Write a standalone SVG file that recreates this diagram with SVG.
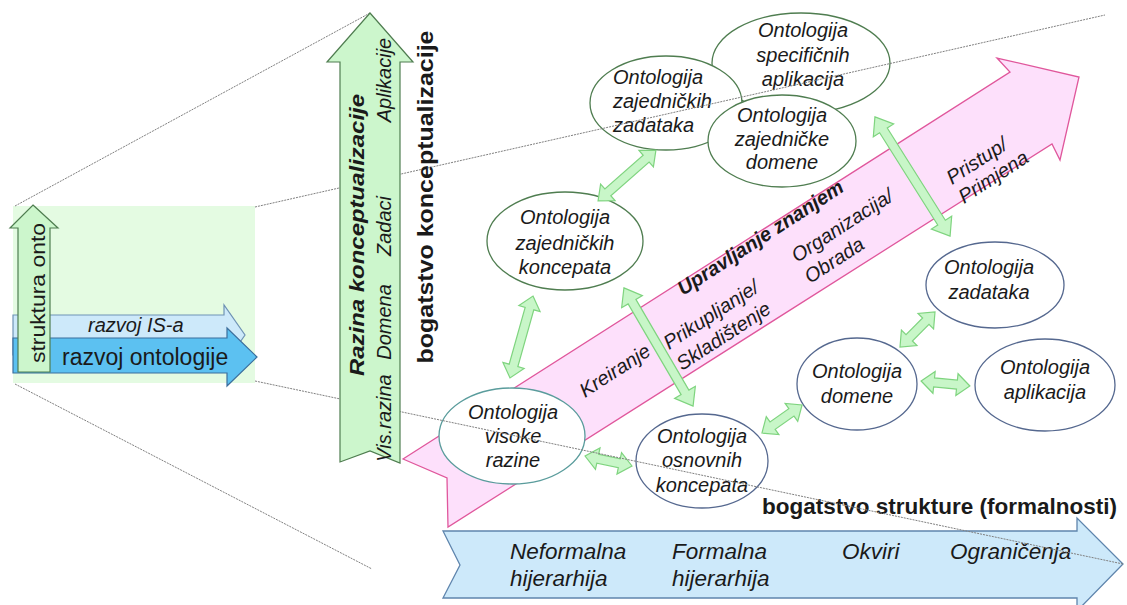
<svg xmlns="http://www.w3.org/2000/svg" width="1127" height="605" viewBox="0 0 1127 605">
<style>
.t{font-family:"Liberation Sans",Arial,sans-serif;fill:#1a1a1a}
.it{font-style:italic;font-size:20px}
.ell{fill:#ffffff;stroke-width:1.3}
.g{stroke:#4f7d50}
.tl{stroke:#5a9c9c}
.bl{stroke:#55688f}
.dbl{fill:#c8f6c8;stroke:#7fd47f;stroke-width:1.2}
.dot{stroke:#808080;stroke-width:1;stroke-dasharray:2 1;fill:none}
.big{font-size:22.5px}
</style>
<rect width="1127" height="605" fill="#ffffff"/>

<g id="left-panel">
  <rect x="13" y="206" width="242" height="177" fill="#e4fbe2"/>
  <polygon points="13,315 224,315 224,305 245,335 224,365 224,355 13,355" fill="#cde9fa" stroke="#6f93b5" stroke-width="1.2"/>
  <text class="t it" x="88" y="332" font-size="18.5">razvoj IS-a</text>
  <polygon points="13,338 227,338 227,328 257,357 227,386 227,373 13,373" fill="#5cc1f1" stroke="#3b6e9c" stroke-width="1.2"/>
  <text class="t" x="62" y="365" font-size="23">razvoj ontologije</text>
  <polygon points="33,205 58,228 50,228 50,372 18,372 18,228 10,228" fill="#ccf6cc" stroke="#4f7d50" stroke-width="1.2"/>
  <text class="t" transform="translate(45,293) rotate(-90)" text-anchor="middle" font-size="20" textLength="140" lengthAdjust="spacingAndGlyphs">struktura  onto</text>
</g>

<g id="formalnost-arrow">
  <polygon points="443,531 1077,531 1077,518 1123,564 1077,611 1077,598 443,598 460,565" fill="#cde9fa" stroke="#5f85ad" stroke-width="1.3"/>
  <text class="t it big" x="510" y="559">Neformalna</text>
  <text class="t it big" x="510" y="586">hijerarhija</text>
  <text class="t it big" x="672" y="559">Formalna</text>
  <text class="t it big" x="672" y="586">hijerarhija</text>
  <text class="t it big" x="842" y="559">Okviri</text>
  <text class="t it big" x="950" y="559">Ograničenja</text>
</g>
<text class="t" x="762" y="514" font-size="22" font-weight="bold" textLength="355" lengthAdjust="spacingAndGlyphs">bogatstvo strukture (formalnosti)</text>

<g id="upravljanje-arrow">
  <polygon points="403,459 1010,72 997,58 1079,77 1060,160 1052,144 448,527 447,478" fill="#fde0fb" stroke="#e0579c" stroke-width="1.3"/>
  <text class="t it" transform="translate(585,398) rotate(-33)">Kreiranje</text>
  <text class="t it" transform="translate(669,350) rotate(-33)">Prikupljanje/</text>
  <text class="t it" transform="translate(682,371) rotate(-33)">Skladištenje</text>
  <text class="t it" transform="translate(683,296) rotate(-33)" font-weight="bold">Upravljanje znanjem</text>
  <text class="t it" transform="translate(797,263) rotate(-33)">Organizacija/</text>
  <text class="t it" transform="translate(810,284) rotate(-33)">Obrada</text>
  <text class="t it" transform="translate(952,185) rotate(-33)">Pristup/</text>
  <text class="t it" transform="translate(964,204) rotate(-33)">Primjena</text>
</g>

<g id="n-specificnih">
  <ellipse class="ell g" cx="801" cy="63" rx="89" ry="50"/>
  <text class="t it" x="803" y="37" text-anchor="middle">Ontologija</text>
  <text class="t it" x="803" y="62" text-anchor="middle">specifičnih</text>
  <text class="t it" x="803" y="86" text-anchor="middle">aplikacija</text>
</g>
<g id="n-zajednickih-zadataka">
  <ellipse class="ell g" cx="666" cy="103" rx="76" ry="47"/>
  <text class="t it" x="613" y="84">Ontologija</text>
  <text class="t it" x="613" y="108">zajedničkih</text>
  <text class="t it" x="613" y="132">zadataka</text>
</g>
<g id="n-zajednicke-domene">
  <ellipse class="ell g" cx="782" cy="141" rx="74" ry="46"/>
  <text class="t it" x="782" y="122" text-anchor="middle">Ontologija</text>
  <text class="t it" x="782" y="146" text-anchor="middle">zajedničke</text>
  <text class="t it" x="782" y="169" text-anchor="middle">domene</text>
</g>
<g id="n-zajednickih-koncepata">
  <ellipse class="ell g" cx="565" cy="241" rx="78" ry="49"/>
  <text class="t it" x="565" y="224" text-anchor="middle">Ontologija</text>
  <text class="t it" x="565" y="250" text-anchor="middle">zajedničkih</text>
  <text class="t it" x="565" y="274" text-anchor="middle">koncepata</text>
</g>
<g id="n-visoke-razine">
  <ellipse class="ell tl" cx="512" cy="436" rx="73" ry="48"/>
  <text class="t it" x="513" y="419" text-anchor="middle">Ontologija</text>
  <text class="t it" x="513" y="443" text-anchor="middle">visoke</text>
  <text class="t it" x="513" y="467" text-anchor="middle">razine</text>
</g>
<g id="n-osnovnih-koncepata">
  <ellipse class="ell bl" cx="702" cy="461" rx="66" ry="47"/>
  <text class="t it" x="702" y="443" text-anchor="middle">Ontologija</text>
  <text class="t it" x="702" y="467" text-anchor="middle">osnovnih</text>
  <text class="t it" x="702" y="492" text-anchor="middle">koncepata</text>
</g>
<g id="n-domene">
  <ellipse class="ell bl" cx="857" cy="384" rx="60" ry="46"/>
  <text class="t it" x="857" y="378" text-anchor="middle">Ontologija</text>
  <text class="t it" x="857" y="403" text-anchor="middle">domene</text>
</g>
<g id="n-zadataka">
  <ellipse class="ell bl" cx="995" cy="285" rx="69" ry="43"/>
  <text class="t it" x="989" y="274" text-anchor="middle">Ontologija</text>
  <text class="t it" x="989" y="299" text-anchor="middle">zadataka</text>
</g>
<g id="n-aplikacija">
  <ellipse class="ell bl" cx="1045" cy="385" rx="70" ry="46"/>
  <text class="t it" x="1045" y="374" text-anchor="middle">Ontologija</text>
  <text class="t it" x="1045" y="399" text-anchor="middle">aplikacija</text>
</g>

<g id="connectors">
  <polygon class="dbl" transform="translate(627,175.5) rotate(-41.3)" points="-38.5,0 -25.5,-11 -25.5,-4.5 25.5,-4.5 25.5,-11 38.5,0 25.5,11 25.5,4.5 -25.5,4.5 -25.5,11"/>
  <polygon class="dbl" transform="translate(521.5,337) rotate(105.7)" points="-42.5,0 -29.5,-11 -29.5,-4.5 29.5,-4.5 29.5,-11 42.5,0 29.5,11 29.5,4.5 -29.5,4.5 -29.5,11"/>
  <polygon class="dbl" transform="translate(658.5,347) rotate(59.7)" points="-68.5,0 -52.5,-12 -52.5,-4.5 52.5,-4.5 52.5,-12 68.5,0 52.5,12 52.5,4.5 -52.5,4.5 -52.5,12"/>
  <polygon class="dbl" transform="translate(912.5,176.5) rotate(57.8)" points="-70.5,0 -54.5,-12 -54.5,-4.5 54.5,-4.5 54.5,-12 70.5,0 54.5,12 54.5,4.5 -54.5,4.5 -54.5,12"/>
  <polygon class="dbl" transform="translate(608.5,461) rotate(12)" points="-24,0 -11,-11 -11,-4.5 11,-4.5 11,-11 24,0 11,11 11,4.5 -11,4.5 -11,11"/>
  <polygon class="dbl" transform="translate(782,419) rotate(-35)" points="-24.5,0 -11.5,-11 -11.5,-4.5 11.5,-4.5 11.5,-11 24.5,0 11.5,11 11.5,4.5 -11.5,4.5 -11.5,11"/>
  <polygon class="dbl" transform="translate(917.5,329.5) rotate(-45)" points="-24.75,0 -11.75,-11 -11.75,-4.5 11.75,-4.5 11.75,-11 24.75,0 11.75,11 11.75,4.5 -11.75,4.5 -11.75,11"/>
  <polygon class="dbl" transform="translate(945.5,383.5) rotate(5.8)" points="-24.5,0 -11.5,-11 -11.5,-4.5 11.5,-4.5 11.5,-11 24.5,0 11.5,11 11.5,4.5 -11.5,4.5 -11.5,11"/>
</g>

<g id="guides">
  <line class="dot" x1="15" y1="206" x2="370" y2="13"/>
  <line class="dot" x1="255" y1="207" x2="1105" y2="15"/>
  <line class="dot" x1="255" y1="381" x2="1123" y2="564"/>
  <line class="dot" x1="15" y1="384" x2="372" y2="569"/>
</g>

<g id="konceptualizacija-arrow">
  <polygon points="370,13 413,62 400,62 400,463 370,451 340,462 340,62 327,62" fill="#ccf6cc" stroke="#4f7d50" stroke-width="1.2"/>
  <text class="t" transform="translate(364,235) rotate(-90)" text-anchor="middle" font-size="21" font-weight="bold" font-style="italic" textLength="282" lengthAdjust="spacingAndGlyphs">Razina konceptualizacije</text>
  <text class="t it" transform="translate(391,418) rotate(-90)" text-anchor="middle">Vis.razina</text>
  <text class="t it" transform="translate(391,322) rotate(-90)" text-anchor="middle">Domena</text>
  <text class="t it" transform="translate(391,226) rotate(-90)" text-anchor="middle">Zadaci</text>
  <text class="t it" transform="translate(391,80) rotate(-90)" text-anchor="middle">Aplikacije</text>
</g>
<text class="t" transform="translate(433,197) rotate(-90)" text-anchor="middle" font-size="22" font-weight="bold" textLength="333" lengthAdjust="spacingAndGlyphs">bogatstvo konceptualizacije</text>
</svg>
